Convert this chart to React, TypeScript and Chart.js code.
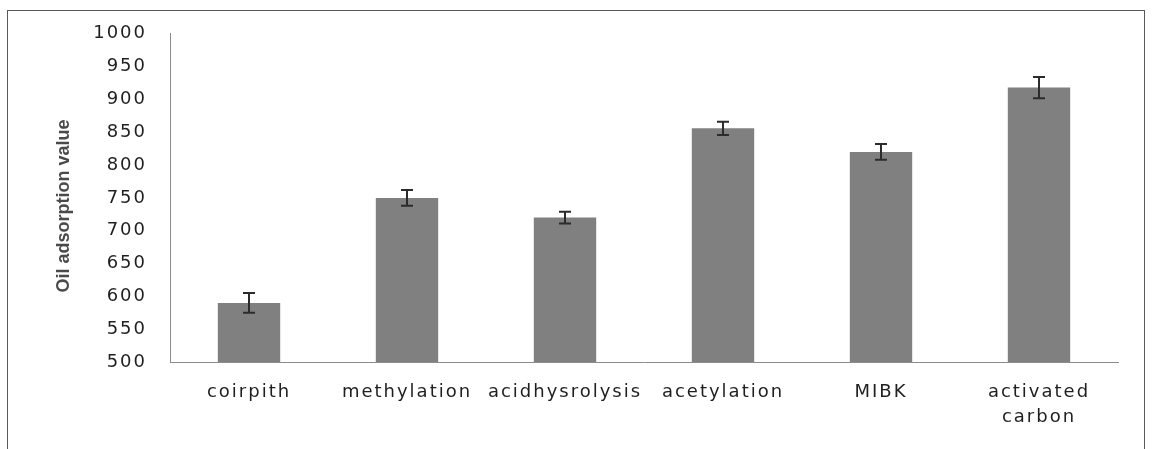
import React, { useEffect, useRef } from "react";
import { Chart, registerables } from "chart.js";

Chart.register(...registerables);

const categories: (string | string[])[] = [
  "coirpith",
  "methylation",
  "acidhysrolysis",
  "acetylation",
  "MIBK",
  ["activated", "carbon"],
];
const values: number[] = [590, 750, 720, 856, 820, 918];
const errors: number[] = [15, 12, 9, 10, 12, 16];
const yTitle = "Oil adsorption value";
const yMin = 500;
const yMax = 1000;
const yStep = 50;

const errorBarPlugin = {
  id: "errorBars",
  afterDatasetsDraw(chart: any) {
    const ctx = chart.ctx;
    const meta = chart.getDatasetMeta(0);
    const ys = chart.scales.y;
    ctx.save();
    ctx.strokeStyle = "#2b2b2b";
    ctx.lineWidth = 2;
    meta.data.forEach((bar: any, i: number) => {
      const x = bar.x;
      const top = ys.getPixelForValue(values[i] + errors[i]);
      const bot = ys.getPixelForValue(values[i] - errors[i]);
      ctx.beginPath();
      ctx.moveTo(x, top);
      ctx.lineTo(x, bot);
      ctx.moveTo(x - 6, top);
      ctx.lineTo(x + 6, top);
      ctx.moveTo(x - 6, bot);
      ctx.lineTo(x + 6, bot);
      ctx.stroke();
    });
    ctx.restore();
  },
};

const spacingPlugin = {
  id: "spacing",
  beforeDraw(chart: any) {
    (chart.ctx as any).letterSpacing = "2px";
  },
  afterDraw(chart: any) {
    const ctx = chart.ctx;
    const ys = chart.scales.y;
    ctx.save();
    (ctx as any).letterSpacing = "0px";
    ctx.translate(64, (ys.top + ys.bottom) / 2 + 8);
    ctx.rotate(-Math.PI / 2);
    ctx.font = "bold 18px 'Liberation Sans Narrow', 'Liberation Sans', Arial, sans-serif";
    ctx.fillStyle = "#4a4a4a";
    ctx.textAlign = "center";
    ctx.textBaseline = "middle";
    ctx.fillText(yTitle, 0, 0);
    ctx.restore();
  },
};

export default function App() {
  const ref = useRef<HTMLCanvasElement>(null);
  useEffect(() => {
    if (!ref.current) return;
    const chart = new Chart(ref.current, {
      type: "bar",
      data: {
        labels: categories as any,
        datasets: [
          {
            data: values,
            backgroundColor: "#808080",
            borderWidth: 0,
            categoryPercentage: 1,
            barPercentage: 0.395,
          },
        ],
      },
      options: {
        animation: false,
        responsive: false,
        devicePixelRatio: 1,
        layout: { padding: { top: 33, right: 34, left: 0, bottom: 0 } },
        plugins: { legend: { display: false }, tooltip: { enabled: false } },
        scales: {
          x: {
            grid: { display: false, drawTicks: false },
            border: { display: true, color: "#8c8c8c", width: 1 },
            ticks: {
              color: "#1f1f1f",
              font: { family: "'DejaVu Sans', sans-serif", size: 18, lineHeight: 1.4 },
              padding: 18,
              maxRotation: 0,
              autoSkip: false,
            },
            afterFit(scale: any) {
              scale.height = 87;
            },
          },
          y: {
            min: yMin,
            max: yMax,
            grid: { display: false, drawTicks: false },
            border: { display: true, color: "#8c8c8c", width: 1 },
            ticks: {
              stepSize: yStep,
              color: "#1f1f1f",
              font: { family: "'DejaVu Sans', sans-serif", size: 18 },
              padding: 23,
              callback: (v: any) => String(v),
            },
            afterFit(scale: any) {
              scale.width = 170;
            },
          },
        },
      },
      plugins: [spacingPlugin, errorBarPlugin],
    });
    return () => chart.destroy();
  }, []);
  return (
    <div
      style={{
        position: "absolute",
        left: 0,
        top: 0,
        width: 1152,
        height: 449,
        overflow: "hidden",
        background: "#fff",
      }}
    >
      <div
        style={{
          position: "absolute",
          left: 7,
          top: 10,
          width: 1138,
          height: 460,
          border: "1px solid #5a5a5a",
          boxSizing: "border-box",
        }}
      />
      <canvas ref={ref} width={1152} height={449} style={{ position: "absolute", left: 0, top: 0 }} />
    </div>
  );
}
